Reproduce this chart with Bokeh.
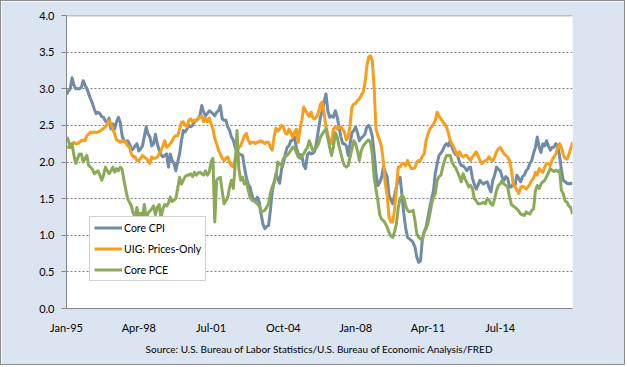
from bokeh.plotting import figure
from bokeh.models import FixedTicker, Legend, LegendItem, Span
from bokeh.embed import file_html
from bokeh.resources import INLINE

# Monthly year-over-year inflation, Jan 1995 - Oct 2017 (percent)
core_cpi = [
    2.92, 2.97, 3.00, 3.15, 3.05, 3.00, 3.00, 3.00, 3.02, 3.11, 3.05, 3.00,  # 1995
    2.93, 2.86, 2.80, 2.72, 2.66, 2.68, 2.66, 2.62, 2.61, 2.56, 2.54, 2.60,  # 1996
    2.45, 2.52, 2.45, 2.55, 2.61, 2.54, 2.36, 2.29, 2.27, 2.29, 2.25, 2.16,  # 1997
    2.18, 2.22, 2.25, 2.15, 2.18, 2.22, 2.35, 2.48, 2.38, 2.34, 2.22, 2.25,  # 1998
    2.38, 2.25, 2.16, 2.10, 2.07, 2.09, 2.11, 1.93, 2.11, 2.02, 1.98, 1.88,  # 1999
    2.00, 2.11, 2.29, 2.43, 2.41, 2.45, 2.50, 2.48, 2.50, 2.55, 2.57, 2.59,  # 2000
    2.63, 2.77, 2.68, 2.63, 2.66, 2.70, 2.68, 2.66, 2.63, 2.68, 2.70, 2.77,  # 2001
    2.59, 2.57, 2.57, 2.48, 2.43, 2.34, 2.30, 2.20, 2.15, 2.11, 2.10, 2.09,  # 2002
    1.93, 1.79, 1.70, 1.66, 1.55, 1.48, 1.48, 1.52, 1.45, 1.29, 1.15, 1.09,  # 2003
    1.12, 1.13, 1.34, 1.60, 1.72, 1.84, 1.78, 1.71, 1.90, 1.98, 2.10, 2.20,  # 2004
    2.22, 2.29, 2.30, 2.34, 2.20, 2.11, 2.10, 2.09, 1.95, 1.91, 2.10, 2.13,  # 2005
    2.11, 2.12, 2.15, 2.29, 2.45, 2.61, 2.70, 2.82, 2.93, 2.70, 2.61, 2.63,  # 2006
    2.61, 2.70, 2.62, 2.48, 2.35, 2.25, 2.25, 2.22, 2.09, 2.25, 2.40, 2.43,  # 2007
    2.48, 2.40, 2.29, 2.33, 2.35, 2.38, 2.48, 2.50, 2.45, 2.35, 2.11, 1.84,  # 2008
    1.68, 1.72, 1.79, 1.93, 1.86, 1.80, 1.55, 1.48, 1.43, 1.55, 1.66, 1.75,  # 2009
    1.79, 1.55, 1.29, 1.10, 0.97, 0.95, 0.93, 0.90, 0.84, 0.70, 0.63, 0.65,  # 2010
    0.95, 1.05, 1.11, 1.25, 1.38, 1.50, 1.61, 1.85, 1.98, 2.09, 2.12, 2.16,  # 2011
    2.22, 2.25, 2.22, 2.29, 2.20, 2.14, 2.10, 2.09, 2.00, 1.95, 1.95, 1.92,  # 2012
    1.88, 1.92, 1.93, 1.78, 1.70, 1.63, 1.68, 1.75, 1.72, 1.70, 1.72, 1.73,  # 2013
    1.65, 1.59, 1.75, 1.82, 1.93, 1.90, 1.88, 1.80, 1.75, 1.80, 1.78, 1.66,  # 2014
    1.66, 1.70, 1.68, 1.82, 1.78, 1.73, 1.80, 1.82, 1.88, 1.91, 1.98, 2.02,  # 2015
    2.12, 2.20, 2.34, 2.20, 2.13, 2.25, 2.22, 2.29, 2.22, 2.16, 2.20, 2.20,  # 2016
    2.25, 2.22, 2.09, 1.90, 1.75, 1.73, 1.71, 1.70, 1.71, 1.70,              # 2017
]

uig_prices_only = [
    2.20, 2.20, 2.20, 2.22, 2.27, 2.25, 2.25, 2.27, 2.29, 2.30, 2.29, 2.36,  # 1995
    2.38, 2.41, 2.40, 2.41, 2.40, 2.41, 2.42, 2.44, 2.46, 2.48, 2.52, 2.57,  # 1996
    2.52, 2.45, 2.38, 2.30, 2.29, 2.27, 2.29, 2.28, 2.27, 2.22, 2.20, 2.11,  # 1997
    2.07, 2.07, 2.02, 2.02, 2.05, 2.09, 2.07, 2.05, 2.02, 1.98, 2.07, 2.05,  # 1998
    2.05, 2.07, 2.11, 2.16, 2.22, 2.29, 2.20, 2.22, 2.25, 2.29, 2.34, 2.36,  # 1999
    2.36, 2.45, 2.54, 2.55, 2.50, 2.48, 2.57, 2.59, 2.55, 2.57, 2.56, 2.60,  # 2000
    2.61, 2.63, 2.55, 2.60, 2.55, 2.60, 2.52, 2.45, 2.32, 2.25, 2.16, 2.11,  # 2001
    2.05, 2.02, 2.05, 2.07, 2.00, 1.95, 1.93, 2.05, 2.16, 2.20, 2.22, 2.29,  # 2002
    2.36, 2.39, 2.30, 2.25, 2.27, 2.27, 2.25, 2.27, 2.28, 2.29, 2.27, 2.25,  # 2003
    2.27, 2.27, 2.20, 2.16, 2.34, 2.46, 2.42, 2.45, 2.50, 2.48, 2.40, 2.38,  # 2004
    2.45, 2.40, 2.34, 2.40, 2.45, 2.27, 2.45, 2.57, 2.75, 2.70, 2.66, 2.62,  # 2005
    2.68, 2.60, 2.59, 2.62, 2.68, 2.79, 2.82, 2.66, 2.48, 2.38, 2.29, 2.25,  # 2006
    2.45, 2.48, 2.45, 2.48, 2.48, 2.45, 2.40, 2.30, 2.34, 2.50, 2.75, 2.79,  # 2007
    2.80, 2.84, 2.86, 2.91, 2.95, 3.07, 3.30, 3.43, 3.45, 3.38, 3.00, 2.45,  # 2008
    2.36, 2.29, 2.20, 2.00, 1.70, 1.55, 1.25, 1.18, 1.18, 1.35, 1.65, 1.93,  # 2009
    1.93, 1.98, 1.98, 1.95, 2.02, 1.96, 1.91, 1.91, 1.92, 2.00, 2.02, 2.02,  # 2010
    2.08, 2.11, 2.29, 2.38, 2.45, 2.48, 2.52, 2.57, 2.68, 2.62, 2.59, 2.55,  # 2011
    2.52, 2.48, 2.40, 2.29, 2.25, 2.20, 2.14, 2.09, 2.14, 2.09, 2.07, 2.09,  # 2012
    2.09, 2.05, 2.02, 2.07, 2.10, 2.14, 2.09, 2.03, 1.98, 2.00, 2.02, 2.03,  # 2013
    2.07, 2.03, 2.02, 2.07, 2.14, 2.18, 2.20, 2.16, 2.11, 2.09, 2.07, 2.02,  # 2014
    1.90, 1.70, 1.66, 1.62, 1.57, 1.65, 1.67, 1.66, 1.63, 1.66, 1.70, 1.75,  # 2015
    1.78, 1.86, 1.82, 1.91, 1.88, 1.86, 1.93, 1.98, 1.98, 1.95, 2.03, 2.07,  # 2016
    2.11, 2.20, 2.25, 2.20, 2.10, 2.05, 2.04, 2.10, 2.18, 2.27,              # 2017
]

core_pce = [
    2.34, 2.30, 2.20, 2.25, 2.09, 1.98, 2.05, 2.11, 2.11, 2.00, 2.05, 2.09,  # 1995
    1.95, 1.93, 1.90, 1.84, 1.86, 1.88, 1.82, 1.75, 1.82, 1.93, 1.88, 1.84,  # 1996
    1.88, 1.93, 1.86, 1.91, 1.88, 1.93, 1.90, 1.75, 1.62, 1.50, 1.45, 1.40,  # 1997
    1.30, 1.25, 1.38, 1.24, 1.30, 1.26, 1.42, 1.22, 1.30, 1.33, 1.36, 1.40,  # 1998
    1.28, 1.38, 1.42, 1.24, 1.36, 1.42, 1.40, 1.44, 1.52, 1.46, 1.48, 1.50,  # 1999
    1.64, 1.79, 1.70, 1.75, 1.80, 1.82, 1.82, 1.84, 1.80, 1.86, 1.82, 1.85,  # 2000
    1.86, 1.84, 1.82, 1.88, 1.82, 1.86, 2.00, 2.05, 1.18, 1.75, 1.78, 1.79,  # 2001
    1.60, 1.43, 1.47, 1.52, 1.66, 1.75, 1.64, 1.95, 2.43, 1.90, 1.75, 1.79,  # 2002
    1.70, 1.75, 1.62, 1.52, 1.48, 1.47, 1.45, 1.43, 1.40, 1.32, 1.33, 1.34,  # 2003
    1.38, 1.43, 1.57, 1.66, 1.72, 1.79, 2.00, 1.97, 1.95, 2.05, 2.07, 2.09,  # 2004
    2.12, 2.16, 2.20, 2.20, 2.13, 2.07, 2.05, 2.09, 2.11, 2.16, 2.20, 2.29,  # 2005
    2.22, 2.15, 2.18, 2.20, 2.25, 2.34, 2.38, 2.42, 2.45, 2.32, 2.20, 2.09,  # 2006
    2.20, 2.40, 2.35, 2.22, 2.12, 2.02, 1.95, 1.93, 1.95, 2.07, 2.18, 2.29,  # 2007
    2.25, 2.15, 2.02, 2.15, 2.22, 2.25, 2.28, 2.30, 2.27, 2.11, 1.79, 1.62,  # 2008
    1.47, 1.28, 1.22, 1.20, 1.16, 1.11, 1.04, 0.99, 0.97, 1.05, 1.16, 1.38,  # 2009
    1.50, 1.54, 1.52, 1.40, 1.34, 1.32, 1.33, 1.34, 1.20, 1.02, 0.97, 0.95,  # 2010
    0.93, 1.05, 1.09, 1.16, 1.28, 1.43, 1.52, 1.57, 1.75, 1.80, 1.82, 1.93,  # 2011
    2.02, 2.09, 2.09, 2.09, 2.00, 1.95, 1.92, 1.86, 1.80, 1.73, 1.84, 1.77,  # 2012
    1.72, 1.66, 1.68, 1.64, 1.50, 1.47, 1.43, 1.43, 1.44, 1.45, 1.43, 1.50,  # 2013
    1.48, 1.43, 1.41, 1.50, 1.61, 1.68, 1.70, 1.75, 1.70, 1.68, 1.66, 1.52,  # 2014
    1.42, 1.40, 1.38, 1.36, 1.33, 1.29, 1.28, 1.27, 1.32, 1.30, 1.29, 1.34,  # 2015
    1.36, 1.61, 1.68, 1.64, 1.70, 1.73, 1.75, 1.80, 1.85, 1.91, 1.89, 1.87,  # 2016
    1.89, 1.87, 1.89, 1.61, 1.57, 1.47, 1.45, 1.40, 1.38, 1.29,              # 2017
]

series_names = ["Core CPI", "UIG: Prices-Only", "Core PCE"]
tick_months = [0, 39, 78, 117, 156, 195, 234]
tick_labels = ["Jan-95", "Apr-98", "Jul-01", "Oct-04", "Jan-08", "Apr-11", "Jul-14"]
y_ticks = [0.0, 0.5, 1.0, 1.5, 2.0, 2.5, 3.0, 3.5, 4.0]
grid_levels = [0.5, 1.0, 1.5, 2.0, 2.5, 3.0, 3.5]
source_text = "Source: U.S. Bureau of Labor Statistics/U.S. Bureau of Economic Analysis/FRED"

FONT = "Lato"
BG = "#DBE5F1"
AXIS_GREY = "#868686"
colors = ["#6F8BA8", "#F99D1C", "#8BAA58"]

months = list(range(len(core_cpi)))

p = figure(width=625, height=365, output_backend="svg", toolbar_location=None,
           x_range=(0, len(months) - 1), y_range=(0, 4),
           min_border_left=65, min_border_right=54, min_border_top=14, min_border_bottom=58)
p.styles = {"border": "1px solid #8C8C8C"}
p.background_fill_color = "white"
p.border_fill_color = BG
p.outline_line_color = None

# grid: dotted horizontal lines, solid line on top
p.xgrid.visible = False
p.ygrid.visible = False
grid_renderers = p.hspan(y=grid_levels, line_color="#808080", line_width=1.2, line_dash="2 2",
                         level="underlay")
p.add_layout(Span(location=4.0, dimension="width", line_color=AXIS_GREY, line_width=1.5))

# y axis
p.yaxis.ticker = FixedTicker(ticks=y_ticks)
p.yaxis.major_label_overrides = {t: f"{t:.1f}" for t in y_ticks}
p.yaxis.axis_line_color = AXIS_GREY
p.yaxis.major_tick_line_color = AXIS_GREY
p.yaxis.major_tick_out = 5
p.yaxis.major_tick_in = 0
p.yaxis.minor_tick_line_color = None
p.yaxis.major_label_standoff = 7
p.yaxis.major_label_text_font = FONT
p.yaxis.major_label_text_font_size = "11px"
p.yaxis.major_label_text_color = "#000000"

# x axis
p.xaxis.ticker = FixedTicker(ticks=tick_months)
p.xaxis.major_label_overrides = dict(zip(tick_months, tick_labels))
p.xaxis.axis_line_color = AXIS_GREY
p.xaxis.major_tick_line_color = None
p.xaxis.major_tick_out = 0
p.xaxis.major_tick_in = 0
p.xaxis.minor_tick_line_color = None
p.xaxis.major_label_standoff = 12
p.xaxis.major_label_text_font = FONT
p.xaxis.major_label_text_font_size = "11px"
p.xaxis.major_label_text_color = "#000000"
p.xaxis.axis_label = source_text
p.xaxis.axis_label_text_font = FONT
p.xaxis.axis_label_text_font_size = "10px"
p.xaxis.axis_label_text_font_style = "normal"
p.xaxis.axis_label_text_color = "#000000"
p.xaxis.axis_label_standoff = 6

renderers = []
for vals, col in zip([core_cpi, uig_prices_only, core_pce], colors):
    r = p.line(months, vals, line_color=col, line_width=3, line_join="round")
    renderers.append(r)

legend = Legend(items=[LegendItem(label=n, renderers=[r]) for n, r in zip(series_names, renderers)],
                location=(23, 27))
legend.background_fill_color = "white"
legend.background_fill_alpha = 1
legend.border_line_color = "#A6A6A6"
legend.border_line_width = 1
legend.label_text_font = FONT
legend.label_text_font_size = "10.5px"
legend.label_text_color = "#000000"
legend.glyph_width = 28
legend.glyph_height = 13
legend.label_height = 13
legend.label_standoff = 2
legend.spacing = 8
legend.padding = 4
legend.margin = 0
p.add_layout(legend)

open("out.html", "w").write(file_html(p, INLINE))
